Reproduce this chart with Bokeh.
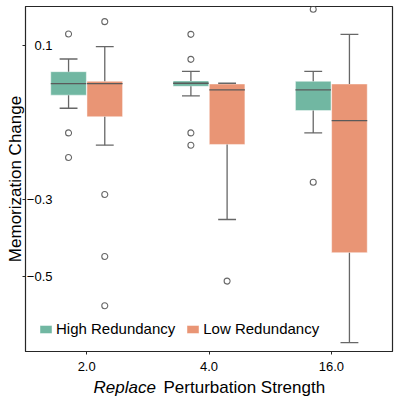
from bokeh.plotting import figure
from bokeh.models import ColumnDataSource, Range1d, FixedTicker, Legend, LegendItem, Title
from bokeh.transform import dodge
from bokeh.embed import file_html
from bokeh.resources import INLINE

# ---- data ----
strengths = ["2.0", "4.0", "16.0"]

high_q1 = [-0.029, -0.006, -0.069]
high_med = [0.001, 0.002, -0.015]
high_q3 = [0.032, 0.008, 0.007]
high_lo = [-0.063, -0.031, -0.127]
high_hi = [0.065, 0.033, 0.033]
high_out_x = ["2.0", "2.0", "2.0", "4.0", "4.0", "4.0", "4.0", "16.0", "16.0"]
high_out_y = [0.130, -0.127, -0.191, 0.129, 0.064, -0.127, -0.159, 0.194, -0.255]

low_q1 = [-0.085, -0.157, -0.438]
low_med = [0.001, -0.015, -0.095]
low_q3 = [0.007, 0.0, 0.0]
low_lo = [-0.159, -0.352, -0.672]
low_hi = [0.097, 0.002, 0.129]
low_out_x = ["2.0", "2.0", "2.0", "2.0", "4.0"]
low_out_y = [0.162, -0.287, -0.448, -0.576, -0.512]

y_ticks = [0.1, -0.3, -0.5]
series_names = ["High Redundancy", "Low Redundancy"]
colors = ["#71b7a2", "#e99575"]

FONT = "Liberation Sans"
LINE = "#676767"

p = figure(width=399, height=397, x_range=strengths, y_range=Range1d(-0.6948, 0.2013),
           output_backend="svg", toolbar_location=None,
           min_border_top=6, min_border_right=7, min_border_left=25, min_border_bottom=46)
p.xgrid.visible = False
p.ygrid.visible = False
p.x_range.range_padding = 0
p.outline_line_color = "#262626"
p.outline_line_width = 1.2
p.background_fill_color = "white"

BOX_W = 0.291
OFF = 0.148
CAP = 0.073

legend_items = []
for i, (q1, med, q3, lo, hi, ox, oy) in enumerate([
        (high_q1, high_med, high_q3, high_lo, high_hi, high_out_x, high_out_y),
        (low_q1, low_med, low_q3, low_lo, low_hi, low_out_x, low_out_y)]):
    off = -OFF if i == 0 else OFF
    src = ColumnDataSource(dict(cat=strengths, q1=q1, med=med, q3=q3, lo=lo, hi=hi))
    box = p.vbar(x=dodge("cat", off, range=p.x_range), width=BOX_W, top="q3", bottom="q1",
                 source=src, fill_color=colors[i], line_color="white", line_alpha=0.45, line_width=1)
    legend_items.append(LegendItem(label=series_names[i], renderers=[box]))
    # whiskers
    p.segment(x0=dodge("cat", off, range=p.x_range), y0="q3", x1=dodge("cat", off, range=p.x_range), y1="hi",
              source=src, line_color=LINE, line_width=1.3)
    p.segment(x0=dodge("cat", off, range=p.x_range), y0="q1", x1=dodge("cat", off, range=p.x_range), y1="lo",
              source=src, line_color=LINE, line_width=1.3)
    # caps
    for col in ["hi", "lo"]:
        p.segment(x0=dodge("cat", off - CAP, range=p.x_range), y0=col,
                  x1=dodge("cat", off + CAP, range=p.x_range), y1=col,
                  source=src, line_color=LINE, line_width=1.3)
    # median
    p.segment(x0=dodge("cat", off - BOX_W / 2, range=p.x_range), y0="med",
              x1=dodge("cat", off + BOX_W / 2, range=p.x_range), y1="med",
              source=src, line_color="#5a5a5a", line_width=1.3)
    # outliers
    osrc = ColumnDataSource(dict(cat=ox, y=oy))
    p.scatter(x=dodge("cat", off, range=p.x_range), y="y", source=osrc, size=6,
              marker="circle", fill_color=None, line_color=LINE, line_width=1.1)

legend = Legend(items=legend_items, orientation="horizontal", location=(13, 14),
                margin=0, padding=0, spacing=10, label_standoff=3,
                glyph_width=15, glyph_height=10, label_height=17,
                label_text_font=FONT, label_text_font_size="15px", label_text_color="black",
                background_fill_alpha=0, border_line_alpha=0)
p.add_layout(legend, "center")

# axes
for ax in [p.xaxis[0], p.yaxis[0]]:
    ax.axis_line_color = "#262626"
    ax.major_tick_line_color = "#262626"
    ax.minor_tick_line_color = None
    ax.major_tick_in = 0
    ax.major_label_text_font = FONT
    ax.major_label_text_font_size = "13px"
    ax.major_label_text_color = "black"
    ax.axis_label_text_font = FONT
    ax.axis_label_text_font_size = "17px"
    ax.axis_label_text_font_style = "normal"
    ax.axis_label_text_color = "black"

p.xaxis.major_tick_out = 3
p.xaxis.major_label_standoff = 7
p.xaxis.axis_label = None

p.yaxis.ticker = FixedTicker(ticks=y_ticks)
p.yaxis.major_tick_out = 3
p.yaxis.major_label_standoff = -30
p.yaxis.axis_label = "Memorization Change"
p.yaxis.axis_label_standoff = -1

# x label: italic "Replace" + normal rest, as two titles on one row below
t1 = Title(text="Replace", align="left", offset=68, standoff=-46, vertical_align="bottom",
           text_font=FONT, text_font_size="17px", text_font_style="italic", text_color="black")
t2 = Title(text="Perturbation Strength", align="left", offset=138, standoff=-46, vertical_align="bottom",
           text_font=FONT, text_font_size="17px", text_font_style="normal", text_color="black")
p.add_layout(t1, "below")
p.add_layout(t2, "below")

open("out.html", "w").write(file_html(p, INLINE))
